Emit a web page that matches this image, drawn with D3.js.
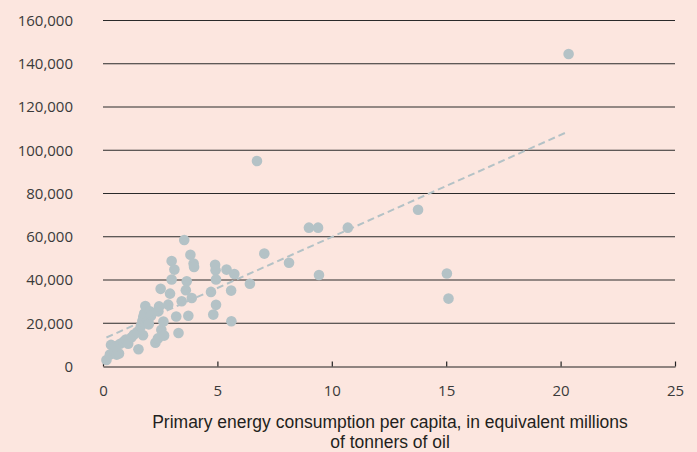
<!doctype html>
<html lang="en">
	<head>
		<meta charset="utf-8">
		<title>Energy vs GDP</title>
		<style type="text/css">
			body {
				margin: 0;
				background-color: #fce6df;
				font-family: "Open Sans", sans-serif;
			}
			svg {
				background-color: #fce6df;
				display: block;
			}
			.grid line {
				stroke: #2a2a2a;
				stroke-width: 1.2px;
			}
			.axis path,
			.axis line {
				fill: none;
				stroke: #222;
				stroke-width: 1.2px;
			}
			.axis text {
				font-family: "Open Sans", sans-serif;
				font-size: 15px;
				fill: #3a3a3a;
			}
			circle.dot {
				fill: #b4c2c6;
			}
			path.trend {
				fill: none;
				stroke: #b4c2c6;
				stroke-width: 2px;
				stroke-dasharray: 7,4;
			}
			text.xtitle {
				font-family: "Liberation Sans", Arial, sans-serif;
				font-size: 17.5px;
				fill: #231f20;
			}
		</style>
	</head>
	<body>
		<script type="text/javascript" src="https://cdnjs.cloudflare.com/ajax/libs/d3/7.8.5/d3.min.js"></script>
		<script type="text/javascript">
			// energy (toe per capita) and matching value
			var energy = [0.15, 0.3, 0.35, 0.5, 0.6, 0.7, 0.55, 0.75, 0.9, 1.0,
				1.1, 1.25, 1.35, 1.5, 1.55, 1.65, 1.75, 1.72, 1.76, 1.8,
				1.85, 1.98, 2.05, 2.1, 2.0, 2.29, 2.4, 2.42, 2.45, 2.55,
				2.64, 2.67, 2.85, 2.52, 2.93, 3.0, 3.12, 3.0, 3.2, 3.3,
				3.44, 3.55, 3.62, 3.66, 3.73, 3.82, 3.88, 3.96, 3.98, 4.72,
				4.82, 4.9, 4.92, 4.94, 4.94, 5.4, 5.6, 5.61, 5.74, 6.42,
				6.73, 7.05, 8.13, 9.0, 9.4, 9.44, 10.7, 13.77, 15.03, 15.1,
				20.35];
			var value = [3000, 5500, 10000, 7000, 5500, 6000, 9500, 10500, 11500, 12500,
				10500, 13500, 14800, 16000, 8000, 18500, 14500, 21000, 23000, 24500,
				28000, 21000, 25500, 23500, 19500, 11000, 13000, 25500, 27800, 17000,
				20800, 14300, 28600, 35900, 33700, 48800, 44800, 40200, 23100, 15500,
				30200, 58500, 35300, 39400, 23500, 51700, 31700, 47600, 46000, 34500,
				24000, 47000, 44500, 40200, 28500, 44800, 35100, 20900, 42800, 38300,
				95000, 52200, 48000, 64200, 64200, 42300, 64200, 72500, 43000, 31400,
				144500];
			// dashed trend line ends
			var trendX = [0.15, 20.3];
			var trendY = [13400, 108500];
			var xTicks = [0, 5, 10, 15, 20, 25];
			var yTicks = [0, 20000, 40000, 60000, 80000, 100000, 120000, 140000, 160000];
			var titleLines = ["Primary energy consumption per capita, in equivalent millions", "of tonners of oil"];

			var fullwidth = 697;
			var fullheight = 452;
			var margin = { top: 20.5, right: 22, bottom: 85, left: 103 };
			var width = fullwidth - margin.left - margin.right;
			var height = 366.5 - margin.top;

			var xScale = d3.scaleLinear().domain([0, 25]).range([0, width]);
			var yScale = d3.scaleLinear().domain([0, 160000]).range([height, 0]);
			var fmt = d3.format(",");

			var svg = d3.select("body")
						.append("svg")
						.attr("width", fullwidth)
						.attr("height", fullheight)
						.append("g")
						.attr("transform", "translate(" + margin.left + "," + margin.top + ")");

			// grid lines (not at 0, the axis is there)
			svg.append("g")
				.attr("class", "grid")
				.selectAll("line")
				.data(yTicks.slice(1))
				.enter()
				.append("line")
				.attr("x1", 0)
				.attr("x2", width)
				.attr("y1", function(d) { return yScale(d); })
				.attr("y2", function(d) { return yScale(d); });

			// y labels
			var yAxis = d3.axisLeft(yScale)
				.tickValues(yTicks)
				.tickFormat(fmt)
				.tickSize(0)
				.tickPadding(30);
			svg.append("g")
				.attr("class", "axis y")
				.call(yAxis)
				.call(function(g) { g.select(".domain").remove(); });

			// x axis, ticks point up
			var xAxis = d3.axisBottom(xScale)
				.tickValues(xTicks)
				.tickSizeInner(-5)
				.tickSizeOuter(0)
				.tickPadding(19);
			svg.append("g")
				.attr("class", "axis x")
				.attr("transform", "translate(0," + height + ")")
				.call(xAxis);

			var dataset = energy.map(function(e, i) {
				return { x: e, y: value[i] };
			});

			svg.selectAll("circle.dot")
				.data(dataset)
				.enter()
				.append("circle")
				.attr("class", "dot")
				.attr("cx", function(d) { return xScale(d.x); })
				.attr("cy", function(d) { return yScale(d.y); })
				.attr("r", 5.3);

			var trend = d3.line()
				.x(function(d) { return xScale(d[0]); })
				.y(function(d) { return yScale(d[1]); });
			svg.append("path")
				.attr("class", "trend")
				.attr("d", trend(trendX.map(function(x, i) { return [x, trendY[i]]; })));

			// axis title, two lines
			svg.selectAll("text.xtitle")
				.data(titleLines)
				.enter()
				.append("text")
				.attr("class", "xtitle")
				.attr("text-anchor", "middle")
				.attr("x", width / 2 + 1)
				.attr("y", function(d, i) { return height + 61 + i * 20.2; })
				.text(function(d) { return d; });
		</script>
	</body>
</html>
